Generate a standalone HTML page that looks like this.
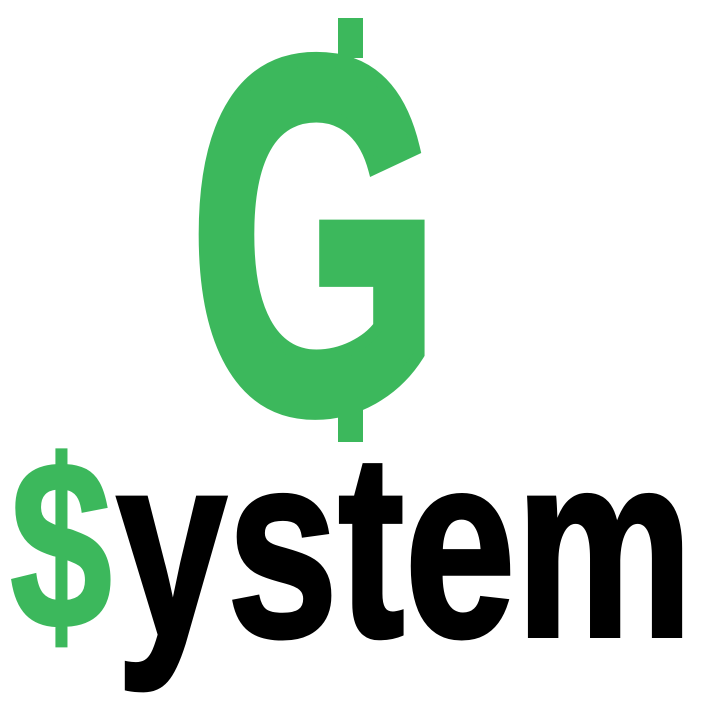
<!DOCTYPE html>
<html>
<head>
<meta charset="utf-8">
<style>
  html,body{margin:0;padding:0;background:#fff;width:703px;height:705px;overflow:hidden;}
  svg{display:block;}
</style>
</head>
<body>
<svg width="703" height="705" viewBox="0 0 703 705">
  <rect x="338" y="18" width="25" height="40" fill="#3cb85c"/>
  <rect x="338" y="400" width="25" height="42" fill="#3cb85c"/>
  <text x="190" y="408" font-family="Liberation Sans, Arial, sans-serif" font-weight="bold" font-size="500" fill="#3cb85c" stroke="#3cb85c" stroke-width="14" stroke-linejoin="miter" textLength="250" lengthAdjust="spacingAndGlyphs">G</text>
  <text x="10" y="628" font-family="Liberation Sans, Arial, sans-serif" font-weight="bold" font-size="240" fill="#3cb85c" stroke="#3cb85c" stroke-width="3" textLength="102" lengthAdjust="spacingAndGlyphs">$</text>
  <text x="116" y="636" font-family="Liberation Sans, Arial, sans-serif" font-weight="bold" font-size="262" fill="#000" stroke="#000" stroke-width="4" textLength="577" lengthAdjust="spacingAndGlyphs">ystem</text>
</svg>
</body>
</html>
